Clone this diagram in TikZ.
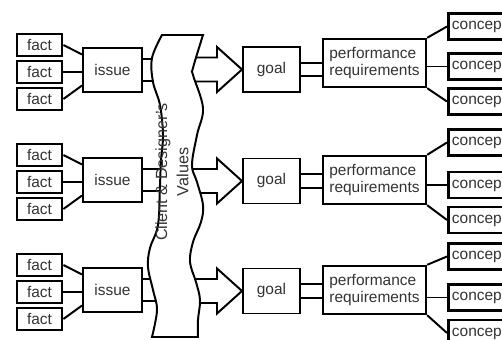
\documentclass[tikz,border=0pt]{standalone}
\usepackage{fontspec}
\setmainfont{Liberation Sans}
\usetikzlibrary{calc}

\begin{document}
\begin{tikzpicture}[x=0.025cm, y=-0.025cm,
    font=\fontsize{11}{12}\selectfont,
    box/.style={draw, line width=1.4pt, text=black!80, inner sep=2pt},
    fact/.style={box, line width=2pt, minimum width=1.125cm, minimum height=0.55cm},
    issue/.style={box, minimum width=1.475cm, minimum height=1.1cm},
    goal/.style={box, minimum width=1.425cm, minimum height=1.125cm},
    perf/.style={box, line width=1.7pt, minimum width=2.575cm, minimum height=1.2cm, align=left},
    concept/.style={box, line width=2pt, anchor=west, minimum height=0.65cm, text width=1.9cm, align=left, inner xsep=2.5pt},
    link/.style={line width=1.4pt}]
    \useasboundingbox (0,0) rectangle (502,340);
    \clip (0,0) rectangle (502,340);
    \foreach \r/\ry/\gy/\py/\ca/\cb/\cc in {1/70/69.5/63/26.5/66.5/101.5, 2/180/181/180/142.5/185/220, 3/290/291/290/256.5/297.5/333}{
        % facts into issue
        \node[fact] (factup\r) at (39.5,\ry-25) {fact};
        \node[fact] (factmid\r) at (39.5,\ry+2) {fact};
        \node[fact] (factlow\r) at (39.5,\ry+29) {fact};
        \node[issue] (issue\r) at (112.5,\ry) {issue};
        \draw[link] (factup\r.east) -- (issue\r.153);
        \draw[link] (factmid\r.east) -- (factmid\r.east -| issue\r.west);
        \draw[link] (factlow\r.east) -- (issue\r.207);
        \draw[link] (issue\r.20) -- ++(30,0);
        \draw[link] (issue\r.-20) -- ++(30,0);
        % goal and its arrow
        \node[goal] (goal\r) at (271.5,\gy) {goal};
        \draw[link] (goal\r.west) -- ++(-25,-22.5) -- ++(0,10.5) -- ++(-40,0);
        \draw[link] (goal\r.west) -- ++(-25,22.5) -- ++(0,-10.5) -- ++(-40,0);
        % requirements and concepts
        \node[perf] (perf\r) at (374.5,\py) {performance\\requirements};
        \draw[link] (goal\r.13) -- (goal\r.13 -| perf\r.west);
        \draw[link] (goal\r.-13) -- (goal\r.-13 -| perf\r.west);
        \node[concept] (conup\r) at (447,\ca) {concept};
        \node[concept] (conmid\r) at (447,\cb) {concept};
        \node[concept] (conlow\r) at (447,\cc) {concept};
        \draw[link] (perf\r.north east) -- (conup\r.west);
        \draw[link] (conmid\r.west -| perf\r.east) -- (conmid\r.west);
        \draw[link] (perf\r.south east) -- (conlow\r.west);
    }
    % values banner
    \draw[link, fill=white] plot[smooth, tension=0.6] coordinates {(162,35) (152,58) (153,82) (160,105) (163,135) (161,160) (160,185) (158,225) (150,248) (148,267) (153,290) (157,310) (152,337)}
        -- plot[smooth, tension=0.6] coordinates {(198,337) (198,320) (200,300) (196,282) (190,262) (193,242) (201,222) (203,205) (197,182) (192,165) (197,135) (203,108) (193,75) (193,68) (203,35)}
        -- cycle;
    \node[rotate=90, align=center, text=black!80, font=\fontsize{11.5}{15}\selectfont] (values) at (172,172) {Client \& Designer's\\Values};
\end{tikzpicture}
\end{document}
